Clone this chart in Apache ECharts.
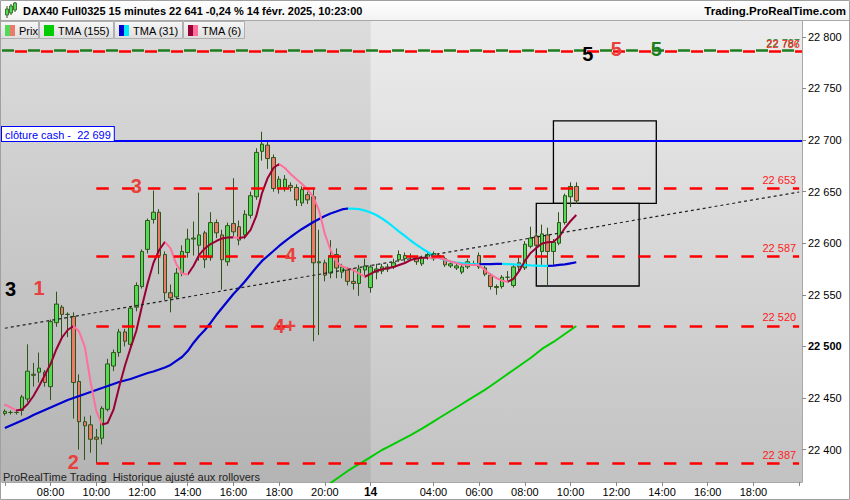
<!DOCTYPE html>
<html><head><meta charset="utf-8">
<script src="https://cdn.jsdelivr.net/npm/echarts@6/dist/echarts.min.js"></script>
<style>html,body{margin:0;padding:0;background:#fff}#c{width:850px;height:500px}</style>
</head><body><div id="c"></div><script>
// ---------- DATA ----------
// sessions of 15-minute bars (13 and 14 Feb 2025)
const sessions = [{day:'13', start:'06:00', bars:64}, {day:'14', start:'01:15', bars:76}];
const categories = [];
for (const s of sessions) {
  let [h, m] = s.start.split(':').map(Number);
  for (let k = 0; k < s.bars; k++) {
    categories.push(s.day + ' ' + String(h).padStart(2,'0') + ':' + String(m).padStart(2,'0'));
    m += 15; if (m >= 60) { m -= 60; h++; }
  }
}
// x-axis: labelled ticks and tick-only positions
const xLabels = ['13 08:00','13 10:00','13 12:00','13 14:00','13 16:00','13 18:00','13 20:00',
                 '14 01:15','14 04:00','14 06:00','14 08:00','14 10:00','14 12:00','14 14:00','14 16:00','14 18:00'];
const xTickOnly = ['13 06:00','14 20:00'];
const dayLabel = {'14 01:15':'14'};
// y-axis ticks
const yTicks = [22400,22450,22500,22550,22600,22650,22700,22750,22800];
const yMin = 22368.6, yMax = 22815.3;

// candles: [open, close, low, high]
const candles = [
 [22435,22437,22433,22439],[22436,22436,22434,22438],[22436,22436,22434,22437],[22438,22451,22433,22453],
 [22449,22476,22446,22502],[22473,22472,22461,22484],[22475,22479,22465,22494],[22475,22465,22461,22477],
 [22461,22524,22448,22526],[22523,22541,22519,22553],[22538,22531,22509,22540],[22531,22531,22509,22533],
 [22529,22465,22430,22533],[22466,22427,22400,22473],[22427,22423,22390,22432],[22424,22410,22397,22433],
 [22412,22410,22387,22420],[22411,22440,22405,22442],[22439,22483,22437,22488],[22481,22494,22476,22497],
 [22494,22514,22490,22517],[22514,22505,22500,22517],[22502,22537,22498,22539],[22538,22559,22534,22562],
 [22558,22592,22556,22594],[22594,22622,22590,22624],[22623,22630,22619,22651],[22630,22588,22570,22633],
 [22589,22552,22545,22592],[22552,22547,22533,22560],[22548,22571,22546,22576],[22571,22592,22568,22598],
 [22591,22604,22586,22614],[22604,22605,22588,22621],[22598,22608,22583,22649],[22610,22584,22576,22612],
 [22586,22620,22583,22630],[22620,22610,22605,22623],[22608,22584,22555,22613],[22582,22617,22578,22620],
 [22619,22611,22605,22663],[22616,22603,22598,22622],[22608,22628,22604,22632],[22627,22646,22624,22650],
 [22645,22688,22642,22692],[22689,22696,22680,22708],[22695,22682,22672,22700],[22683,22653,22650,22686],
 [22653,22662,22648,22665],[22654,22662,22650,22666],[22656,22654,22650,22659],[22654,22642,22636,22657],
 [22639,22652,22636,22655],[22647,22642,22638,22650],[22645,22581,22505,22652],[22581,22582,22511,22613],
 [22581,22569,22563,22584],[22571,22588,22566,22603],[22589,22576,22566,22595],[22572,22577,22566,22580],
 [22574,22563,22559,22577],[22563,22561,22555,22576],[22561,22575,22549,22579],[22574,22578,22567,22585],
 [22557,22577,22552,22579],[22572,22575,22565,22580],[22573,22577,22570,22580],[22575,22577,22572,22580],
 [22577,22581,22575,22585],[22584,22589,22582,22593],[22585,22588,22582,22591],[22587,22587,22584,22590],
 [22585,22582,22579,22587],[22580,22586,22578,22588],[22586,22589,22584,22592],[22585,22590,22583,22592],
 [22588,22588,22585,22590],[22585,22579,22577,22587],[22578,22580,22576,22582],[22576,22578,22574,22580],
 [22572,22577,22570,22579],[22577,22582,22575,22585],[22580,22580,22578,22583],[22588,22577,22575,22591],
 [22576,22570,22568,22578],[22569,22558,22555,22571],[22558,22557,22550,22560],[22558,22567,22556,22569],
 [22567,22567,22562,22573],[22559,22577,22557,22580],[22581,22577,22573,22586],[22576,22599,22574,22602],
 [22597,22605,22595,22616],[22607,22598,22594,22610],[22592,22609,22579,22618],[22608,22592,22559,22615],
 [22592,22601,22579,22604],[22600,22620,22598,22630],[22620,22646,22618,22648],[22645,22655,22635,22659],
 [22655,22641,22638,22659]
];

const tma6 = [
 22443.7,22440.8,22437.9,22438.9,22444.2,22451.9,22461.6,22472.3,22482.9,22497.0,
 22508.6,22515.9,22519.8,22514.4,22499.4,22465.5,22437.4,22424.3,22425.8,22438.4,
 22460.7,22481.0,22498.5,22514.9,22539.1,22561.4,22580.8,22593.4,22601.2,22594.9,
 22579.8,22570.6,22569.7,22577.9,22588.6,22594.9,22599.2,22602.1,22604.6,22605.5,
 22605.8,22605.0,22606.0,22612.8,22626.4,22648.6,22663.2,22672.9,22676.7,22672.9,
 22667.1,22662.2,22657.4,22652.0,22644.8,22631.2,22608.9,22593.4,22581.8,22577.6,
 22575.5,22574.0,22570.6,22567.5,22570.2,22573.1,22574.7,22575.7,22576.9,22578.9,
 22580.8,22583.7,22585.2,22585.8,22586.0,22585.9,22585.7,22584.2,22582.3,22580.8,
 22579.4,22579.1,22578.9,22578.6,22574.0,22569.7,22566.3,22563.7,22562.7,22565.3,
 22573.1,22582.8,22590.5,22595.3,22599.7,22600.9,22601.4,22606.0,22614.7,22621.5,
 22627.3
];
const tma31 = [
 22420.9,22423.4,22425.8,22428.2,22430.6,22433.5,22436.0,22438.4,22440.8,22443.2,
 22445.6,22448.1,22450.0,22451.9,22453.9,22455.8,22457.8,22459.7,22461.6,22463.6,
 22465.5,22467.0,22468.4,22470.4,22472.3,22474.2,22475.7,22477.6,22479.6,22482.0,
 22485.9,22489.7,22495.5,22503.3,22510.1,22515.9,22522.7,22530.4,22537.2,22544.0,
 22550.8,22556.6,22562.9,22569.7,22576.5,22582.8,22587.6,22592.4,22597.3,22601.7,
 22606.0,22609.9,22613.8,22617.2,22620.5,22623.5,22626.4,22628.8,22630.7,22632.7,
 22633.6,22633.4,22633.0,22631.7,22629.8,22627.3,22623.9,22620.1,22615.7,22611.3,
 22607.0,22602.6,22598.7,22594.9,22591.5,22588.1,22585.7,22583.7,22582.3,22581.3,
 22580.6,22580.1,22579.8,22579.6,22579.7,22579.8,22579.9,22580.0,22579.7,22579.4,
 22579.1,22578.8,22578.5,22578.3,22578.1,22578.0,22578.3,22578.9,22579.5,22580.5,
 22581.5
];
const tma155 = [
 null,null,null,null,null,null,null,null,null,null,null,null,null,null,null,null,null,null,null,null,
 null,null,null,null,null,null,null,null,null,null,null,null,null,null,null,null,null,null,null,null,
 null,null,null,null,null,null,null,null,null,null,null,null,null,null,null,null,
 22363.8,22367.6,22371.5,22375.4,22379.3,22382.7,22386.0,22389.4,22392.8,22396.2,
 22399.6,22402.5,22405.4,22408.3,22411.2,22414.1,22417.1,22420.4,22423.8,22427.2,
 22430.6,22434.0,22437.4,22440.8,22444.2,22447.6,22451.0,22454.4,22457.8,22461.6,
 22465.5,22469.4,22473.3,22477.1,22481.0,22484.9,22488.8,22493.1,22497.5,22500.9,
 22504.3,22508.1,22512.0,22515.9,22519.8
];

// drawn horizontal levels
const redLevels = [22653, 22587, 22520, 22387];
const redLevelStart = 16;           // slot where the red levels start
const greenTop = 22787, redTop = 22786;
const cashClose = 22699;
const lastPrice = 22641;
const trendLine = [[0, 22517.6], [139, 22649.6]];
const boxes = [[96, 22718.5, 114, 22638.5], [93, 22638.5, 111, 22558.5]];
// chart annotations
const annoText  = ['3','1','2','3','4','4+','5','5','5'];
const annoSlot  = [1, 6, 12, 23, 50, 49, 102, 107, 114];
const annoPrice = [22556, 22557, 22388, 22655, 22589, 22520, 22783, 22788, 22788];
const annoColor = ['#000','#e8403c','#e8403c','#e8403c','#e8403c','#e8403c','#000','#e8403c','#1d7d1d'];

// ---------- CHART ----------
const FONT = '"Liberation Sans", Arial, sans-serif';
const fmt = v => String(v).replace(/\B(?=(\d{3})+(?!\d))/g, ' ');
const labelSet = new Set(xLabels);
const tickSet = new Set(xLabels.concat(xTickOnly));

function slopePieces(vals, upColor, downColor) {
  const pieces = []; let cur = null;
  for (let i = 1; i < vals.length; i++) {
    if (vals[i] == null || vals[i-1] == null) continue;
    const col = vals[i] >= vals[i-1] ? upColor : downColor;
    if (cur && cur.color === col && cur.lte === i - 1) cur.lte = i;
    else { cur = pieces.length ? {gt: i-1, lte: i, color: col} : {gte: i-1, lte: i, color: col}; pieces.push(cur); }
  }
  return pieces;
}

const chart = echarts.init(document.getElementById('c'), null, {renderer: 'svg'});

const markLines = [];
markLines.push({yAxis: greenTop, lineStyle:{color:'#1d7d1d', width:2.5, type:[12,14], dashOffset:0},
  label:{show:true, position:'insideEndTop', distance:2, formatter: fmt(greenTop), color:'#1d7d1d', fontSize:11, fontFamily:FONT}});
markLines.push({yAxis: redTop, lineStyle:{color:'#ff0000', width:2.5, type:[12,14], dashOffset:13},
  label:{show:true, position:'insideEndTop', distance:2, formatter: fmt(redTop), color:'#ff2020', fontSize:11, fontFamily:FONT}});
markLines.push({yAxis: cashClose, lineStyle:{color:'#0000ff', width:2, type:'solid'},
  label:{show:true, position:'insideStartTop', distance:0, formatter:'clôture cash -  ' + fmt(cashClose),
    color:'#0000ff', fontSize:11, fontFamily:FONT, backgroundColor:'#fff', borderColor:'#0000ff', borderWidth:1, padding:[2,3,1,3]}});
for (const v of redLevels) {
  markLines.push([
    {coord:[categories[redLevelStart], v], lineStyle:{color:'#ff0000', width:2.5, type:[12.5,13.3]},
     label:{show:true, position:'insideEndTop', distance:3, formatter: fmt(v), color:'#ff2020', fontSize:11, fontFamily:FONT}},
    {coord:[categories[categories.length-1], v]}
  ]);
}
markLines.push({yAxis: lastPrice, lineStyle:{opacity:0},
  label:{show:true, position:'end', distance:5, formatter: fmt(lastPrice), color:'#000', fontSize:11, lineHeight:10, fontFamily:FONT,
    backgroundColor:{type:'linear',x:0,y:0,x2:0,y2:1,colorStops:[{offset:0,color:'#ffe45c'},{offset:1,color:'#f2c200'}]},
    borderColor:'#9a8a40', borderWidth:1, padding:[0,3,0,3]}});

const option = {
  animation: false,
  backgroundColor: '#fff',
  grid: {left: 2, right: 48, top: 21, bottom: 18},
  xAxis: {
    type: 'category', data: categories, boundaryGap: true,
    axisLine: {show: true, lineStyle: {color: '#a8a8a8'}},
    axisTick: {show: true, alignWithLabel: true, length: 4, lineStyle: {color: '#888'},
      interval: (i, v) => tickSet.has(v)},
    axisLabel: {interval: (i, v) => labelSet.has(v), margin: 4, color: '#000', fontSize: 11, fontFamily: FONT,
      formatter: v => dayLabel[v] ? '{b|' + dayLabel[v] + '}' : v.slice(3),
      rich: {b: {fontWeight: 'bold', fontSize: 12, color: '#000', fontFamily: FONT}}},
    splitLine: {show: false}
  },
  yAxis: {
    type: 'value', position: 'right', min: yMin, max: yMax,
    axisLine: {show: true, lineStyle: {color: '#a8a8a8'}},
    axisTick: {show: true, customValues: yTicks, length: 4, lineStyle: {color: '#888'}},
    axisLabel: {customValues: yTicks, margin: 6, color: '#000', fontSize: 11, lineHeight: 11, fontFamily: FONT,
      formatter: v => v === 22500 ? '{b|' + fmt(v) + '}' : fmt(v),
      rich: {b: {fontWeight: 'bold', fontSize: 11, lineHeight: 11, color: '#000', fontFamily: FONT}}},
    splitLine: {show: false}
  },
  visualMap: [
    {show: false, type: 'piecewise', seriesIndex: 2, dimension: 0, pieces: slopePieces(tma31, '#0000d0', '#00e8ff'), outOfRange: {color: '#0000d0'}},
    {show: false, type: 'piecewise', seriesIndex: 3, dimension: 0, pieces: slopePieces(tma6, '#990033', '#ff6f9c'), outOfRange: {color: '#990033'}}
  ],
  series: [
    {name: 'Prix', type: 'candlestick', data: candles, barWidth: 4, z: 2,
     itemStyle: {color: '#55d855', color0: '#ea7a6c', borderColor: '#2c5517', borderColor0: '#2c5517', borderWidth: 1}},
    {name: 'TMA (155)', type: 'line', data: tma155, showSymbol: false, z: 3, lineStyle: {color: '#00cc00', width: 2}},
    {name: 'TMA (31)', type: 'line', data: tma31, showSymbol: false, z: 3, lineStyle: {width: 2.2}},
    {name: 'TMA (6)', type: 'line', data: tma6, showSymbol: false, z: 3, lineStyle: {width: 2}},
    {name: 'trend', type: 'line', data: trendLine, showSymbol: false, z: 4, silent: true,
     lineStyle: {color: '#222', width: 1.2, type: [3, 3]},
     markLine: {symbol: ['none','none'], silent: true, data: markLines},
     markArea: {silent: true, itemStyle: {color: 'rgba(0,0,0,0)', borderColor: '#000', borderWidth: 1.3},
       data: boxes.map(b => [{coord: [categories[b[0]], b[1]]}, {coord: [categories[b[2]], b[3]]}])}},
    {name: 'notes', type: 'scatter', z: 6, silent: true, symbolSize: 1, itemStyle: {color: 'rgba(0,0,0,0)'},
     data: annoSlot.map((s, k) => ({value: [s, annoPrice[k]],
       label: {show: true, position: 'inside', formatter: annoText[k], color: annoColor[k], opacity: 1, fontSize: 20, lineHeight: 18, fontWeight: 'bold', fontFamily: FONT}}))}
  ]
};
chart.setOption(option);

// ---------- decoration (background, header, legend) ----------
const xDay = chart.convertToPixel({xAxisIndex: 0}, categories[64]);
const yTop = 21, yBot = 482, xRight = 802;
const lg = (a, b) => ({type:'linear', x:0, y:0, x2:0, y2:1, colorStops:[{offset:0,color:a},{offset:1,color:b}]});
const T = (x, y, text, extra) => Object.assign({type:'text', z: 100, style: Object.assign({x, y, text, font: '11px ' + FONT, fill:'#000', textVerticalAlign:'middle'}, extra || {})});
const legendItems = [
  {x0:0, x1:39, c1:'#55d855', c2:'#ea7a6c', text:'Prix'},
  {x0:39, x1:114, c1:'#00cc00', c2:'#00cc00', text:'TMA (155)'},
  {x0:114, x1:183, c1:'#0000d0', c2:'#00e8ff', text:'TMA (31)'},
  {x0:183, x1:245, c1:'#990033', c2:'#ff6f9c', text:'TMA (6)'}
];
const g = [
  {type:'rect', z:-10, shape:{x:0, y:yTop, width:xRight, height:yBot-yTop}, style:{fill: lg('#ececec','#c2c2c2')}},
  {type:'rect', z:-9, shape:{x:0, y:yTop, width:xDay, height:yBot-yTop}, style:{fill: lg('#dcdcdc','#b4b4b4')}},
  {type:'rect', z:90, shape:{x:0, y:0, width:850, height:yTop}, style:{fill: lg('#ffffff','#f2f2f2')}},
  {type:'line', z:91, shape:{x1:0, y1:yTop-0.5, x2:850, y2:yTop-0.5}, style:{stroke:'#a8a8a8', lineWidth:1}},
  // icon
  {type:'line', z:95, shape:{x1:7,y1:6,x2:7,y2:18}, style:{stroke:'#2c5517', lineWidth:1}},
  {type:'rect', z:96, shape:{x:5.5,y:9,width:3,height:6}, style:{fill:'#55d855', stroke:'#2c5517', lineWidth:0.8}},
  {type:'line', z:95, shape:{x1:11,y1:4,x2:11,y2:15}, style:{stroke:'#2c5517', lineWidth:1}},
  {type:'rect', z:96, shape:{x:9.5,y:6,width:3,height:7}, style:{fill:'#55d855', stroke:'#2c5517', lineWidth:0.8}},
  {type:'line', z:95, shape:{x1:15,y1:2,x2:15,y2:12}, style:{stroke:'#2c5517', lineWidth:1}},
  {type:'rect', z:96, shape:{x:13.5,y:3,width:3,height:7}, style:{fill:'#55d855', stroke:'#2c5517', lineWidth:0.8}},
  T(23, 11, 'DAX40 Full0325 15 minutes 22 641 -0,24 % 14 févr. 2025, 10:23:00', {font:'bold 11px ' + FONT}),
  T(846, 11, 'Trading.ProRealTime.com', {font:'bold 11.5px ' + FONT, textAlign:'right'}),
  T(3, 477, 'ProRealTime Trading  Historique ajusté aux rollovers', {fill:'#222'}),
  {type:'rect', z:120, shape:{x:0.5, y:0.5, width:849, height:499}, style:{fill:'none', stroke:'#a0a0a0', lineWidth:1}}
];
for (const it of legendItems) {
  g.push({type:'rect', z:100, shape:{x:it.x0+0.5, y:yTop+0.5, width:it.x1-it.x0-1, height:17}, style:{fill: lg('#f6f6f6','#dedede'), stroke:'#b0b0b0', lineWidth:1}});
  g.push({type:'rect', z:101, shape:{x:it.x0+5, y:25, width:5, height:11}, style:{fill: it.c1}});
  g.push({type:'rect', z:101, shape:{x:it.x0+10, y:25, width:5, height:11}, style:{fill: it.c2}});
  g.push(T(it.x0+19, 30.5, it.text, {z:102}));
}
chart.setOption({graphic: {elements: g}});
</script></body></html>
